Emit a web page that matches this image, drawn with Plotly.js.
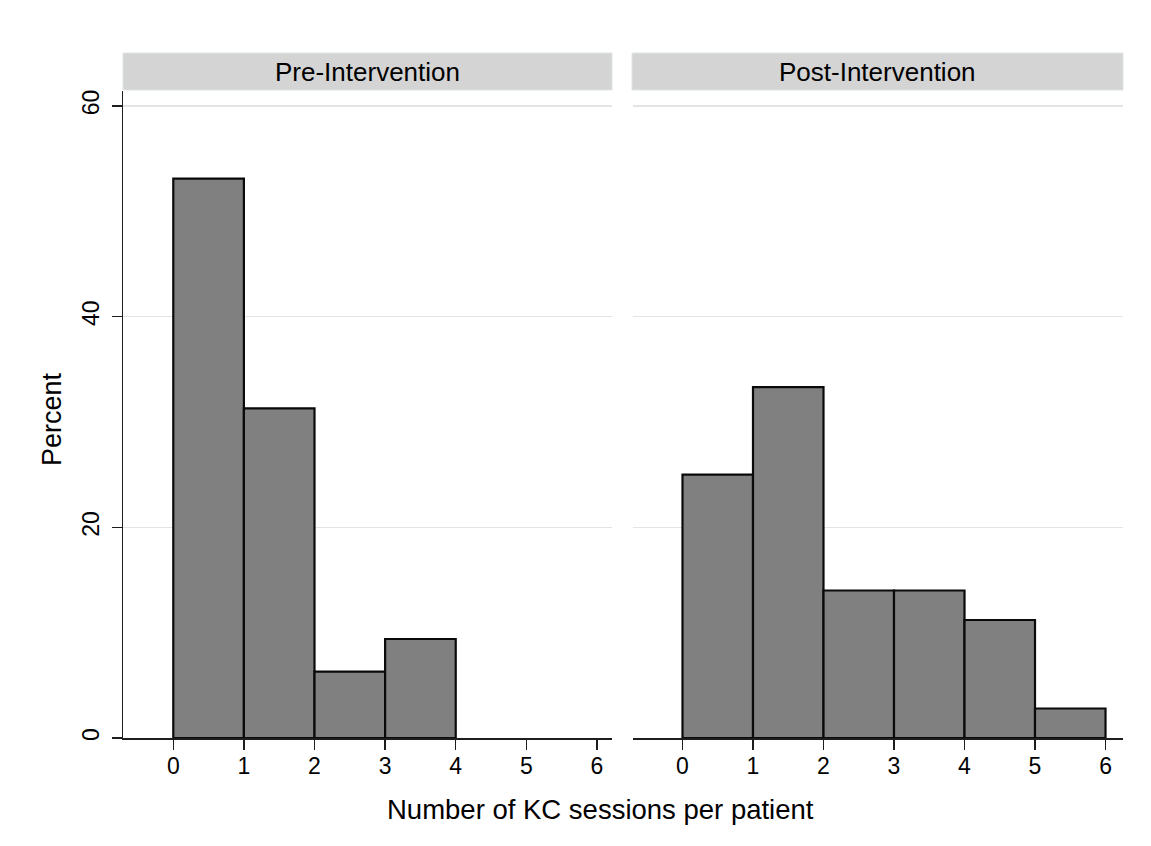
<!DOCTYPE html>
<html>
<head>
<meta charset="utf-8">
<script src="https://cdn.plot.ly/plotly-3.0.1.min.js"></script>
<style>
html,body{margin:0;padding:0;background:#fff;}
#chart{width:1151px;height:846px;}
</style>
</head>
<body>
<div id="chart"></div>
<script>
// ---- data ----
const panelTitles = ["Pre-Intervention", "Post-Intervention"];
const preBinStart = [0, 1, 2, 3];
const prePercent = [53.1, 31.3, 6.3, 9.4];
const postBinStart = [0, 1, 2, 3, 4, 5];
const postPercent = [25.0, 33.3, 14.0, 14.0, 11.2, 2.8];
const binWidth = 1;
const xTickVals = [0, 1, 2, 3, 4, 5, 6];
const yTickVals = [0, 20, 40, 60];
const xTitle = "Number of KC sessions per patient";
const yTitle = "Percent";

// ---- geometry helpers (pixel -> paper) ----
const W = 1151, H = 846;
const px = v => v / W;
const py = v => (H - v) / H;

const FONT = "Liberation Sans, Arial, Helvetica, sans-serif";
const AXC = "#1e1e1e";

const barStyle = {
  type: "bar",
  offset: 0,
  width: binWidth,
  marker: { color: "#808080", line: { color: "#0a0a0a", width: 2.2 } },
  hoverinfo: "x+y",
  showlegend: false
};

const traces = [
  Object.assign({}, barStyle, { x: preBinStart, y: prePercent, xaxis: "x", yaxis: "y", name: panelTitles[0] }),
  Object.assign({}, barStyle, { x: postBinStart, y: postPercent, xaxis: "x2", yaxis: "y2", name: panelTitles[1] })
];

const xCommon = {
  tickvals: xTickVals,
  ticks: "outside", ticklen: 10, tickwidth: 1.5, tickcolor: AXC,
  ticklabelstandoff: -3,
  showline: true, linecolor: AXC, linewidth: 1.5,
  showgrid: false, zeroline: false,
  tickfont: { family: FONT, size: 23, color: "#000" },
  fixedrange: true
};
const yDomain = [py(738), py(91)];
const yRange = [0, 61.42];

const layout = {
  width: W, height: H,
  margin: { l: 0, r: 0, t: 0, b: 0 },
  paper_bgcolor: "#ffffff",
  plot_bgcolor: "#ffffff",
  bargap: 0,
  font: { family: FONT, color: "#000" },
  xaxis: Object.assign({}, xCommon, { domain: [px(123), px(612)], range: [-0.712, 6.213], anchor: "y" }),
  xaxis2: Object.assign({}, xCommon, { domain: [px(633), px(1123)], range: [-0.702, 6.248], anchor: "y2" }),
  yaxis: {
    domain: yDomain, range: yRange, anchor: "x",
    tickvals: yTickVals, tickangle: -90,
    ticks: "outside", ticklen: 10, tickwidth: 1.5, tickcolor: AXC,
    ticklabelstandoff: 3,
    showline: true, linecolor: AXC, linewidth: 1.5,
    showgrid: true, gridcolor: "#e4e4e4", gridwidth: 1.5,
    zeroline: false,
    tickfont: { family: FONT, size: 23, color: "#000" },
    fixedrange: true
  },
  yaxis2: {
    domain: yDomain, range: yRange, anchor: "x2",
    tickvals: yTickVals, showticklabels: false, ticks: "",
    showline: false,
    showgrid: true, gridcolor: "#e4e4e4", gridwidth: 1.5,
    zeroline: false, fixedrange: true
  },
  shapes: [
    { type: "rect", xref: "paper", yref: "paper", x0: px(123), x1: px(612), y0: py(90), y1: py(53),
      fillcolor: "#d4d4d4", line: { color: "#dfe5e5", width: 1 }, layer: "below" },
    { type: "rect", xref: "paper", yref: "paper", x0: px(632), x1: px(1123), y0: py(90), y1: py(53),
      fillcolor: "#d4d4d4", line: { color: "#dfe5e5", width: 1 }, layer: "below" }
  ],
  annotations: [
    { xref: "paper", yref: "paper", x: px(367.5), y: py(72), text: panelTitles[0], showarrow: false,
      xanchor: "center", yanchor: "middle", font: { family: FONT, size: 26, color: "#000" } },
    { xref: "paper", yref: "paper", x: px(877.5), y: py(72), text: panelTitles[1], showarrow: false,
      xanchor: "center", yanchor: "middle", font: { family: FONT, size: 26, color: "#000" } },
    { xref: "paper", yref: "paper", x: px(601), y: py(809), text: xTitle, showarrow: false,
      xanchor: "center", yanchor: "middle", font: { family: FONT, size: 27.5, color: "#000" } },
    { xref: "paper", yref: "paper", x: px(52), y: py(419), text: yTitle, showarrow: false, textangle: -90,
      xanchor: "center", yanchor: "middle", font: { family: FONT, size: 27, color: "#000" } }
  ]
};

Plotly.newPlot("chart", traces, layout, { displayModeBar: false, staticPlot: true });
</script>
</body>
</html>
